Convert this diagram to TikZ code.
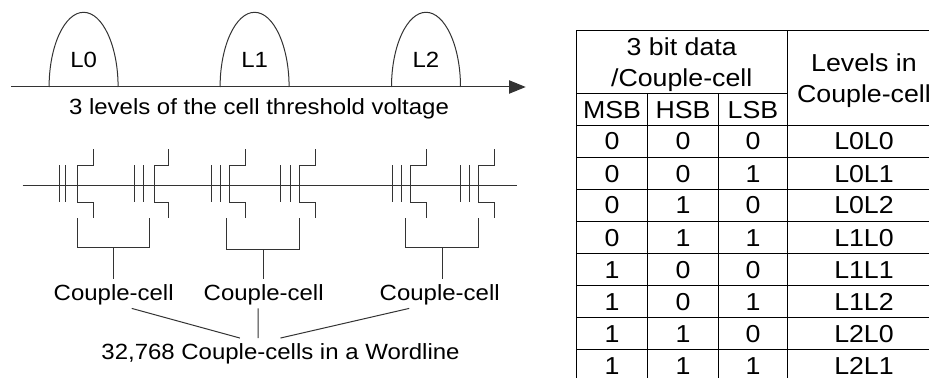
\documentclass[tikz,border=0pt]{standalone}
\usepackage{fontspec}
\setmainfont[FakeStretch=1.09]{Liberation Sans}
\usetikzlibrary{arrows.meta, calc}

\begin{document}
\begin{tikzpicture}[
      x=0.75pt, y=-0.75pt,
      wire/.style={line width=0.75pt, black!80},
      arrow/.style={wire, -{Triangle[length=12.5pt, width=10pt]}},
      lefttext/.style={anchor=base, inner sep=1.5pt, outer sep=1pt, font=\fontsize{16.5}{18}\selectfont},
      wordtext/.style={lefttext, outer sep=2.5pt},
      cell/.style={anchor=base, inner sep=0pt, font=\fontsize{18.4}{20}\selectfont},
      grid/.style={line width=0.75pt, black}
    ]
    \useasboundingbox (0,0) rectangle (929,378);

    % threshold voltage levels
    \coordinate (axisstart) at (11,87);
    \coordinate (axisend) at (525.7,87);
    \draw[arrow] (axisstart) -- (axisend);
    \foreach \xc/\lev in {83.6/0, 254.6/1, 426/2} {
      \node[lefttext] (lev\lev) at (\xc,67.3) {L\lev};
      \draw[wire] (\xc-34.5,87) .. controls (\xc-34.5,46) and (\xc-19,12.3) .. (\xc,12.3)
        .. controls (\xc+19,12.3) and (\xc+34.5,46) .. (\xc+34.5,87);
    }
    \node[lefttext] (levels) at (259,115) {3 levels of the cell threshold voltage};

    % wordline and transistors
    \coordinate (wlstart) at (22.5,185);
    \coordinate (wlend) at (517,185);
    \draw[wire] (wlstart) -- (wlend);
    \foreach \xa/\xb/\xc/\xd in {59/65.5/77/93, 134/143/154.5/168, 211/220/229/245,
                                 280.7/290.3/299.3/315, 392/401.3/410.3/426.3, 460.3/469.3/478.3/494.3} {
      \draw[wire] (\xa,165) -- (\xa,202);
      \draw[wire] (\xb,165) -- (\xb,202);
      \draw[wire] (\xd,149.5) -- (\xd,165) -- (\xc,165) -- (\xc,202) -- (\xd,202) -- (\xd,218);
    }

    \node[lefttext] (couple1) at (113.7,300.5) {Couple-cell};
    \node[lefttext] (couple2) at (263.7,300.5) {Couple-cell};
    \node[lefttext] (couple3) at (439.7,300.5) {Couple-cell};
    \node[wordtext] (wordline) at (280.5,359.3) {32,768 Couple-cells in a Wordline};

    \draw[wire] (77,218) -- (77,247.7) -- (149.5,247.7) -- (149.5,218);
    \draw[wire] (226.7,218) -- (226.7,249.3) -- (299.3,249.3) -- (299.3,218);
    \draw[wire] (405.8,218) -- (405.8,247.7) -- (478.3,247.7) -- (478.3,218);
    \coordinate (stem1) at (113.3,247.7);
    \coordinate (stem2) at (263,249.3);
    \coordinate (stem3) at (442.3,247.7);
    \draw[wire, shorten >=1.4pt] (stem1) -- (stem1 |- couple1.north);
    \draw[wire, shorten >=1.4pt] (stem2) -- (stem2 |- couple2.north);
    \draw[wire, shorten >=1.4pt] (stem3) -- (stem3 |- couple3.north);

    \draw[wire] (couple1.-37) -- (wordline.159.5);
    \draw[wire] (couple2.-112) -- (wordline.145);
    \draw[wire] (couple3.-156.6) -- (wordline.90);

    % table
    \draw[grid] (576.3,30.3) -- (929,30.3);
    \draw[grid] (576.3,93.3) -- (787.7,93.3);
    \foreach \yy in {125.3, 157.3, 189.3, 221.3, 253.3, 285.3, 317.3, 349.3}
      \draw[grid] (576.3,\yy) -- (929,\yy);
    \draw[grid] (576.3,30.3) -- (576.3,378);
    \draw[grid] (647.3,93.3) -- (647.3,378);
    \draw[grid] (718.7,93.3) -- (718.7,378);
    \draw[grid] (787.7,30.3) -- (787.7,378);

    \node[cell] (data1) at (681.7,55.7) {3 bit data};
    \node[cell] (data2) at (681.7,86.7) {/Couple-cell};
    \node[cell] (lvl1) at (864,71.7) {Levels in};
    \node[cell] (lvl2) at (864,102.7) {Couple-cell};
    \node[cell] (msb) at (612,118.3) {MSB};
    \node[cell] (hsb) at (683,118.3) {HSB};
    \node[cell] (lsb) at (753,118.3) {LSB};

    \foreach \m/\h/\l/\lev [count=\i from 0] in {0/0/0/L0L0, 0/0/1/L0L1, 0/1/0/L0L2, 0/1/1/L1L0,
                                                 1/0/0/L1L1, 1/0/1/L1L2, 1/1/0/L2L0, 1/1/1/L2L1} {
      \pgfmathsetmacro{\yb}{150+32*\i}
      \node[cell] (m\i) at (612,\yb) {\m};
      \node[cell] (h\i) at (683,\yb) {\h};
      \node[cell] (l\i) at (753,\yb) {\l};
      \node[cell] (v\i) at (864,\yb) {\lev};
    }
  \end{tikzpicture}
\end{document}
